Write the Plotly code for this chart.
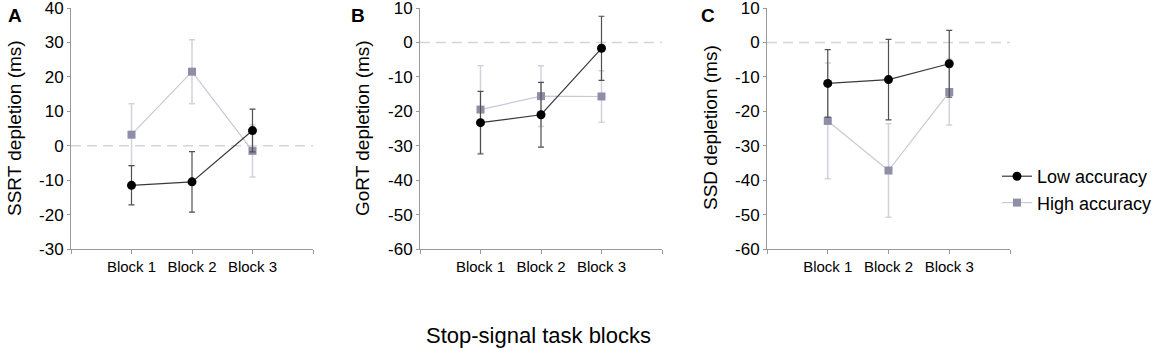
import plotly.graph_objects as go

blocks = ["Block 1", "Block 2", "Block 3"]
block_pos = [1, 2, 3]

ssrt_low = [-11.5, -10.5, 4.4]
ssrt_low_err = [5.7, 8.8, 6.2]
ssrt_high = [3.2, 21.5, -1.5]
ssrt_high_err = [9.0, 9.3, 7.6]

gort_low = [-23.3, -21.0, -1.7]
gort_low_err = [9.1, 9.4, 9.3]
gort_high = [-19.5, -15.6, -15.7]
gort_high_err = [12.7, 8.8, 7.5]

ssd_low = [-11.9, -10.8, -6.2]
ssd_low_err = [9.8, 11.7, 9.7]
ssd_high = [-22.8, -37.2, -14.4]
ssd_high_err = [16.8, 13.6, 9.6]

ssrt_ticks = [-30, -20, -10, 0, 10, 20, 30, 40]
depl_ticks = [-60, -50, -40, -30, -20, -10, 0, 10]

panels = [
    ("A", "SSRT depletion (ms)", ssrt_low, ssrt_low_err, ssrt_high, ssrt_high_err, ssrt_ticks),
    ("B", "GoRT depletion (ms)", gort_low, gort_low_err, gort_high, gort_high_err, depl_ticks),
    ("C", "SSD depletion (ms)", ssd_low, ssd_low_err, ssd_high, ssd_high_err, depl_ticks),
]

W, H = 1158, 348
FONT = "Liberation Sans, Arial, sans-serif"
x_domains_px = [(71, 313), (420, 662), (767, 1010)]
y_top_px, y_bot_px = 8, 249
letter_x_px = [15, 358, 708]
title_x_px = [14, 362, 710]

LOW_LINE = "#3a3a3a"
LOW_MARK = "#000000"
LOW_ERR = "#505050"
HIGH_LINE = "#c8c8d8"
HIGH_MARK = "#8e8ea8"
HIGH_ERR = "#d2d2de"

fig = go.Figure()
layout = dict(
    width=W, height=H,
    margin=dict(l=0, r=0, t=0, b=0, autoexpand=False),
    paper_bgcolor="white", plot_bgcolor="white",
    font=dict(family=FONT, color="#000000"),
    showlegend=True,
    legend=dict(x=(1037 - 40) / W, y=1 - 158 / H, xanchor="left", yanchor="top",
                font=dict(size=18, family=FONT, color="#000"), tracegroupgap=0,
                bgcolor="rgba(0,0,0,0)"),
)
annotations = []
shapes = []

for i, (letter, ytitle, lo, lo_e, hi, hi_e, yt) in enumerate(panels):
    n = i + 1
    xa = "x" if n == 1 else f"x{n}"
    ya = "y" if n == 1 else f"y{n}"
    fig.add_trace(go.Scatter(
        x=block_pos, y=hi, xaxis=xa, yaxis=ya, mode="lines+markers",
        name="High accuracy", legendrank=2, showlegend=(n == 1),
        line=dict(color=HIGH_LINE, width=1.2),
        marker=dict(symbol="square", size=8, color=HIGH_MARK),
        error_y=dict(type="data", array=hi_e, visible=True, color=HIGH_ERR, thickness=1.5, width=3),
    ))
    fig.add_trace(go.Scatter(
        x=block_pos, y=lo, xaxis=xa, yaxis=ya, mode="lines+markers",
        name="Low accuracy", legendrank=1, showlegend=(n == 1),
        line=dict(color=LOW_LINE, width=1.2),
        marker=dict(symbol="circle", size=9, color=LOW_MARK),
        error_y=dict(type="data", array=lo_e, visible=True, color=LOW_ERR, thickness=1.2, width=3),
    ))
    x0, x1 = x_domains_px[i]
    layout["xaxis" if n == 1 else f"xaxis{n}"] = dict(
        domain=[x0 / W, x1 / W], range=[0, 4], anchor=ya,
        tickmode="array",
        tickvals=[0] + block_pos + [4], ticktext=[""] + blocks + [""],
        ticks="outside", ticklen=4, tickcolor="#999999",
        showline=True, linecolor="#999999", linewidth=1,
        showgrid=False, zeroline=False, fixedrange=True, automargin=False,
        tickfont=dict(size=15, family=FONT, color="#000"),
        ticklabeloverflow="allow",
    )
    layout["yaxis" if n == 1 else f"yaxis{n}"] = dict(
        domain=[1 - y_bot_px / H, 1 - y_top_px / H], range=[yt[0], yt[-1]], anchor=xa,
        tickmode="array", tickvals=yt, ticktext=[str(v) for v in yt],
        ticks="outside", ticklen=3, tickcolor="#999999",
        showline=True, linecolor="#999999", linewidth=1,
        showgrid=False, zeroline=False, fixedrange=True, automargin=False,
        tickfont=dict(size=17, family=FONT, color="#000"),
        ticklabeloverflow="allow",
    )
    shapes.append(dict(type="line", xref=f"{xa} domain", yref=ya, x0=0, x1=1, y0=0, y1=0,
                       line=dict(color="#d4d4e0", width=1.5, dash="10px,6px"), layer="below"))
    annotations.append(dict(text=f"<b>{letter}</b>", xref="paper", yref="paper",
                            x=letter_x_px[i] / W, y=1 - 15 / H, showarrow=False,
                            xanchor="center", yanchor="middle",
                            font=dict(size=19, family=FONT, color="#000")))
    annotations.append(dict(text=ytitle, xref="paper", yref="paper", textangle=-90,
                            x=title_x_px[i] / W, y=1 - 128 / H, showarrow=False,
                            xanchor="center", yanchor="middle",
                            font=dict(size=19, family=FONT, color="#000")))

annotations.append(dict(text="Stop-signal task blocks", xref="paper", yref="paper",
                        x=538 / W, y=1 - 335 / H, showarrow=False,
                        xanchor="center", yanchor="middle",
                        font=dict(size=22, family=FONT, color="#000")))

layout["annotations"] = annotations
layout["shapes"] = shapes
fig.update_layout(**layout)
fig.write_html("out.html",
               config={"displayModeBar": False, "staticPlot": True},
               post_script="document.body.style.margin='0';document.body.style.overflow='hidden';")
